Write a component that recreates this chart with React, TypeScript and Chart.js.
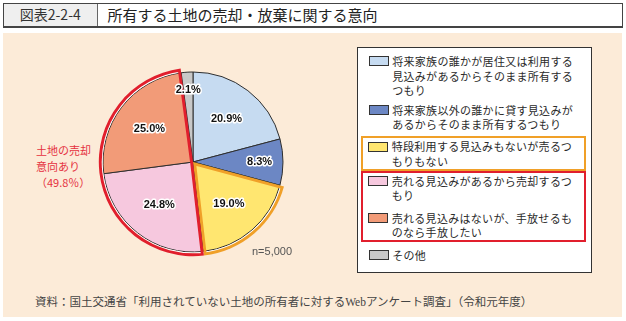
import React, { useEffect, useRef } from "react";
import { Chart, registerables } from "chart.js";

Chart.register(...registerables);

// ---- data ----
const titleNumber = "図表2-2-4";
const titleText = "所有する土地の売却・放棄に関する意向";
const sourceText =
  "資料：国土交通省「利用されていない土地の所有者に対するWebアンケート調査」（令和元年度）";
const categories = [
  "将来家族の誰かが居住又は利用する\n見込みがあるからそのまま所有する\nつもり",
  "将来家族以外の誰かに貸す見込みが\nあるからそのまま所有するつもり",
  "特段利用する見込みもないが売るつ\nもりもない",
  "売れる見込みがあるから売却するつ\nもり",
  "売れる見込みはないが、手放せるも\nのなら手放したい",
  "その他",
];
const shares = [20.9, 8.3, 19.0, 24.8, 25.0, 2.1];
const sliceColors = ["#C6DBF1", "#6C87C4", "#FFE670", "#F6C8DE", "#F29B78", "#C8C8C8"];
const keepGroup = [2];
const sellGroup = [3, 4];
const sampleSize = 5000;
const sellLabelLines = ["土地の売却", "意向あり"];

const ORANGE = "#F0A028";
const RED = "#E11F2D";

function outlineSector(ctx: CanvasRenderingContext2D, cx: number, cy: number, start: number, end: number, r: number, color: string) {
  ctx.save();
  ctx.beginPath();
  ctx.moveTo(cx, cy);
  ctx.arc(cx, cy, r + 4.2, start, end);
  ctx.closePath();
  ctx.clip();
  ctx.beginPath();
  ctx.arc(cx, cy, r + 1, start, end);
  ctx.strokeStyle = "#ffffff";
  ctx.lineWidth = 1.2;
  ctx.stroke();
  ctx.beginPath();
  ctx.moveTo(cx, cy);
  ctx.arc(cx, cy, r + 4.2, start, end);
  ctx.closePath();
  ctx.lineJoin = "miter";
  ctx.lineWidth = 5.8;
  ctx.strokeStyle = color;
  ctx.stroke();
  ctx.restore();
}

const piePlugin = {
  id: "pieExtras",
  afterDatasetsDraw(chart: any) {
    const ctx: CanvasRenderingContext2D = chart.ctx;
    const arcs = chart.getDatasetMeta(0).data.map((a: any) =>
      a.getProps(["x", "y", "startAngle", "endAngle", "outerRadius"], true)
    );
    const groups: [number[], string][] = [
      [keepGroup, ORANGE],
      [sellGroup, RED],
    ];
    groups.forEach(([idx, color]) => {
      const first = arcs[idx[0]];
      const last = arcs[idx[idx.length - 1]];
      outlineSector(ctx, first.x, first.y, first.startAngle, last.endAngle, first.outerRadius, color);
    });
    ctx.save();
    ctx.font = "bold 11px 'Liberation Sans', Arial, sans-serif";
    ctx.textAlign = "center";
    ctx.textBaseline = "middle";
    ctx.lineJoin = "round";
    arcs.forEach((a: any, i: number) => {
      const v = shares[i];
      const f = v < 5 ? 0.8 : v < 10 ? 0.74 : 0.61;
      const mid = (a.startAngle + a.endAngle) / 2;
      const x = a.x + Math.cos(mid) * a.outerRadius * f;
      const y = a.y + Math.sin(mid) * a.outerRadius * f;
      const t = v.toFixed(1) + "%";
      ctx.strokeStyle = "#ffffff";
      ctx.lineWidth = 3;
      ctx.strokeText(t, x, y);
      ctx.fillStyle = "#111111";
      ctx.fillText(t, x, y);
    });
    ctx.restore();
  },
};

function LegendItem({ i, padLeft, marginTop }: { i: number; padLeft: number; marginTop: number }) {
  return (
    <div style={{ display: "flex", alignItems: "flex-start", paddingLeft: padLeft, marginTop }}>
      <div
        style={{
          width: 20,
          height: 10,
          boxSizing: "border-box",
          border: "1px solid #333",
          background: sliceColors[i],
          marginTop: 2.25,
          flex: "none",
        }}
      />
      <div
        style={{
          marginLeft: 3.7,
          whiteSpace: "pre",
          lineHeight: "14.5px",
          fontSize: 11,
          letterSpacing: 0.3,
          color: "#2a2a2a",
        }}
      >
        {categories[i]}
      </div>
    </div>
  );
}

export default function App() {
  const canvasRef = useRef<HTMLCanvasElement | null>(null);

  useEffect(() => {
    document.body.style.margin = "0";
    const chart = new Chart(canvasRef.current!, {
      type: "pie",
      data: {
        labels: categories,
        datasets: [
          {
            data: shares,
            backgroundColor: sliceColors,
            borderColor: "#2e2e2e",
            borderWidth: 1,
          },
        ],
      },
      options: {
        animation: false,
        responsive: false,
        events: [],
        layout: { padding: 9.5 },
        plugins: { legend: { display: false }, tooltip: { enabled: false } },
      },
      plugins: [piePlugin],
    });
    return () => chart.destroy();
  }, []);

  const sellTotal = sellGroup.reduce((s, i) => s + shares[i], 0);

  return (
    <div
      style={{
        position: "relative",
        width: 626,
        height: 321,
        overflow: "hidden",
        background: "#ffffff",
        fontFamily: "'Noto Sans CJK JP', sans-serif",
      }}
    >
      {/* title */}
      <div
        style={{
          position: "absolute",
          left: 3,
          top: 3,
          width: 620,
          height: 25,
          boxSizing: "border-box",
          border: "1.5px solid #444",
          borderBottomWidth: 2,
          background: "#fff",
          display: "flex",
        }}
      >
        <div
          style={{
            width: 92.5,
            borderRight: "1px solid #666",
            background: "#EFEFEF",
            textAlign: "center",
            fontSize: 14,
            lineHeight: "21.5px",
            color: "#333",
          }}
        >
          {titleNumber}
        </div>
        <div style={{ paddingLeft: 10, fontSize: 15, lineHeight: "21.5px", color: "#222" }}>{titleText}</div>
      </div>

      {/* panel background */}
      <div style={{ position: "absolute", left: 3, top: 33, width: 619, height: 284, background: "#FCEBD8" }} />

      {/* pie */}
      <div style={{ position: "absolute", left: 93, top: 62, width: 200, height: 200 }}>
        <canvas ref={canvasRef} width={200} height={200} />
      </div>

      {/* sell intent label */}
      <div
        style={{
          position: "absolute",
          left: 36,
          top: 142,
          fontSize: 11,
          lineHeight: "16px",
          color: "#E5323F",
          whiteSpace: "pre",
        }}
      >
        {sellLabelLines.join("\n") + "\n（" + sellTotal.toFixed(1) + "％）"}
      </div>

      {/* n */}
      <div
        style={{
          position: "absolute",
          left: 252,
          top: 244,
          fontSize: 11,
          lineHeight: "14px",
          color: "#555",
          fontFamily: "'Liberation Sans', Arial, sans-serif",
        }}
      >
        {"n=" + sampleSize.toLocaleString("en-US")}
      </div>

      {/* legend */}
      <div
        style={{
          position: "absolute",
          left: 357,
          top: 47,
          width: 235,
          height: 226,
          boxSizing: "border-box",
          border: "1.5px solid #333",
          background: "#fff",
        }}
      >
        <LegendItem i={0} padLeft={10.5} marginTop={6} />
        <LegendItem i={1} padLeft={10.5} marginTop={5} />
        <div
          style={{
            marginTop: 4.5,
            marginLeft: 3.25,
            width: 224.5,
            boxSizing: "border-box",
            border: `2.5px solid ${ORANGE}`,
            paddingTop: 1.25,
            paddingBottom: 0.5,
          }}
        >
          {keepGroup.map((i) => (
            <LegendItem key={i} i={i} padLeft={4.75} marginTop={0} />
          ))}
        </div>
        <div
          style={{
            marginTop: 0,
            marginLeft: 3.25,
            width: 224.5,
            boxSizing: "border-box",
            border: `2.5px solid ${RED}`,
            paddingTop: 1.2,
            paddingBottom: 0.5,
          }}
        >
          {sellGroup.map((i, k) => (
            <LegendItem key={i} i={i} padLeft={4.75} marginTop={k === 0 ? 0 : 8} />
          ))}
        </div>
        <LegendItem i={5} padLeft={10.5} marginTop={5.25} />
      </div>

      {/* source */}
      <div
        style={{
          position: "absolute",
          left: 35,
          top: 295,
          fontSize: 11.5,
          lineHeight: "14px",
          color: "#444",
          whiteSpace: "nowrap",
          fontFamily: "'Liberation Serif', 'Noto Sans CJK JP', serif",
        }}
      >
        {sourceText}
      </div>
    </div>
  );
}
